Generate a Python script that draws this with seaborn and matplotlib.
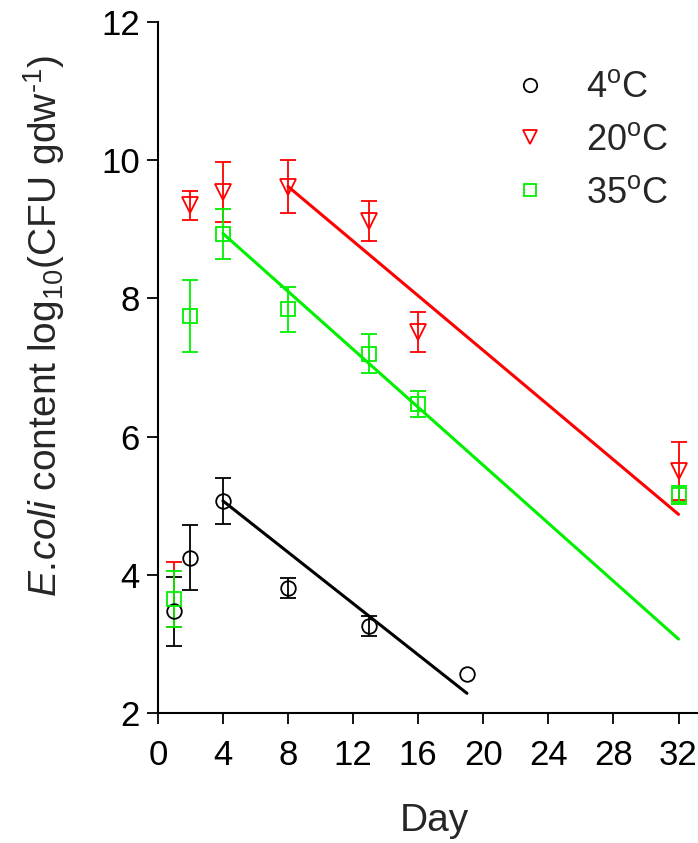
import numpy as np
import pandas as pd
import matplotlib
matplotlib.use("Agg")
import matplotlib.pyplot as plt
import seaborn as sns
from matplotlib.lines import Line2D

# ---------------- data ----------------
temps = ["4oC", "20oC", "35oC"]
labels = [r"4$^{\mathrm{o}}$C", r"20$^{\mathrm{o}}$C", r"35$^{\mathrm{o}}$C"]

days_4 = [1, 2, 4, 8, 13, 19]
vals_4 = [3.47, 4.25, 5.07, 3.81, 3.26, 2.56]
errs_4 = [0.50, 0.47, 0.33, 0.14, 0.14, 0.0]
shown_4 = [True, True, True, True, True, True]

days_20 = [1, 2, 4, 8, 13, 16, 32]
vals_20 = [3.71, 9.35, 9.54, 9.615, 9.12, 7.51, 5.50]
errs_20 = [0.47, 0.21, 0.43, 0.385, 0.29, 0.29, 0.42]
shown_20 = [False, True, True, True, True, True, True]

days_35 = [1, 2, 4, 8, 13, 16, 32]
vals_35 = [3.65, 7.75, 8.935, 7.84, 7.20, 6.47, 5.15]
errs_35 = [0.405, 0.52, 0.365, 0.32, 0.285, 0.19, 0.13]
shown_35 = [True, True, True, True, True, True, True]

# fitted regression lines (end points)
fit_days_4 = [4, 19]
fit_vals_4 = [5.07, 2.285]
fit_days_20 = [8, 32]
fit_vals_20 = [9.62, 4.875]
fit_days_35 = [4, 32]
fit_vals_35 = [8.94, 3.07]

x_ticks = [0, 4, 8, 12, 16, 20, 24, 28, 32]
y_ticks = [2, 4, 6, 8, 10, 12]

# ---------------- style ----------------
sns.set_theme(style="ticks")
plt.rcParams["font.family"] = ["Liberation Sans", "DejaVu Sans"]
plt.rcParams["mathtext.fontset"] = "custom"
plt.rcParams["mathtext.rm"] = "Liberation Sans"
plt.rcParams["mathtext.it"] = "Liberation Sans:italic"
plt.rcParams["mathtext.bf"] = "Liberation Sans:bold"

colors = {"4oC": "#000000", "20oC": "#ff0000", "35oC": "#00f000"}
markers = {"4oC": "o", "20oC": "v", "35oC": "s"}
msize = {"4oC": 10.5, "20oC": 11, "35oC": 9.5}

pts = pd.concat([
    pd.DataFrame({"Day": days_4, "Value": vals_4, "Err": errs_4, "Shown": shown_4, "Temp": "4oC"}),
    pd.DataFrame({"Day": days_20, "Value": vals_20, "Err": errs_20, "Shown": shown_20, "Temp": "20oC"}),
    pd.DataFrame({"Day": days_35, "Value": vals_35, "Err": errs_35, "Shown": shown_35, "Temp": "35oC"}),
], ignore_index=True)

fits = pd.concat([
    pd.DataFrame({"Day": fit_days_4, "Value": fit_vals_4, "Temp": "4oC"}),
    pd.DataFrame({"Day": fit_days_20, "Value": fit_vals_20, "Temp": "20oC"}),
    pd.DataFrame({"Day": fit_days_35, "Value": fit_vals_35, "Temp": "35oC"}),
], ignore_index=True)

fig = plt.figure(figsize=(6.98, 8.43), dpi=100)
ax = fig.add_axes([0.2261, 0.1542, 0.7926, 0.8197])

for t in temps:
    d = pts[pts["Temp"] == t]
    de = d[d["Err"] > 0]
    dm = d[d["Shown"]]
    ax.errorbar(de["Day"], de["Value"], yerr=de["Err"], fmt="none",
                ecolor=colors[t], elinewidth=1.3, capsize=6, capthick=1.3,
                zorder=2, clip_on=False)
    ax.plot(dm["Day"], dm["Value"], linestyle="none", marker=markers[t],
            markersize=msize[t], markerfacecolor="none", markeredgecolor=colors[t],
            markeredgewidth=1.3, zorder=3, clip_on=False)

sns.lineplot(data=fits, x="Day", y="Value", hue="Temp", palette=colors,
             hue_order=temps, linewidth=2.2, legend=False, ax=ax, zorder=2)

ax.set_xlim(0, 34)
ax.set_ylim(2, 12)
ax.set_xticks(x_ticks)
ax.set_yticks(y_ticks)
ax.tick_params(axis="both", direction="out", length=8, width=1.3,
               labelsize=25, colors="black")
ax.tick_params(axis="x", pad=11)
ax.tick_params(axis="y", pad=5)
for s in ["top", "right"]:
    ax.spines[s].set_visible(False)
for s in ["left", "bottom"]:
    ax.spines[s].set_linewidth(1.5)
    ax.spines[s].set_color("black")
ax.set_facecolor("white")

ax.set_xlabel("Day", fontsize=28, labelpad=22)
ax.set_ylabel("$\\mathit{E.\\!coli}$ content log$_{10}$(CFU gdw$^{\u20101}$)", fontsize=28)
ax.yaxis.set_label_coords(-0.165, 0.56)

handles = [Line2D([0], [0], linestyle="none", marker=markers[t], markersize=msize[t] * 0.92,
                  markerfacecolor="none", markeredgecolor=colors[t], markeredgewidth=1.3)
           for t in temps]
fig.legend(handles, labels, loc="upper left", bbox_to_anchor=(0.7328, 0.9165),
           frameon=False, fontsize=26, handlelength=1.0, handletextpad=1.05,
           labelspacing=0.49, borderpad=0, borderaxespad=0)

fig.savefig("out.png", dpi=100, facecolor="white")
